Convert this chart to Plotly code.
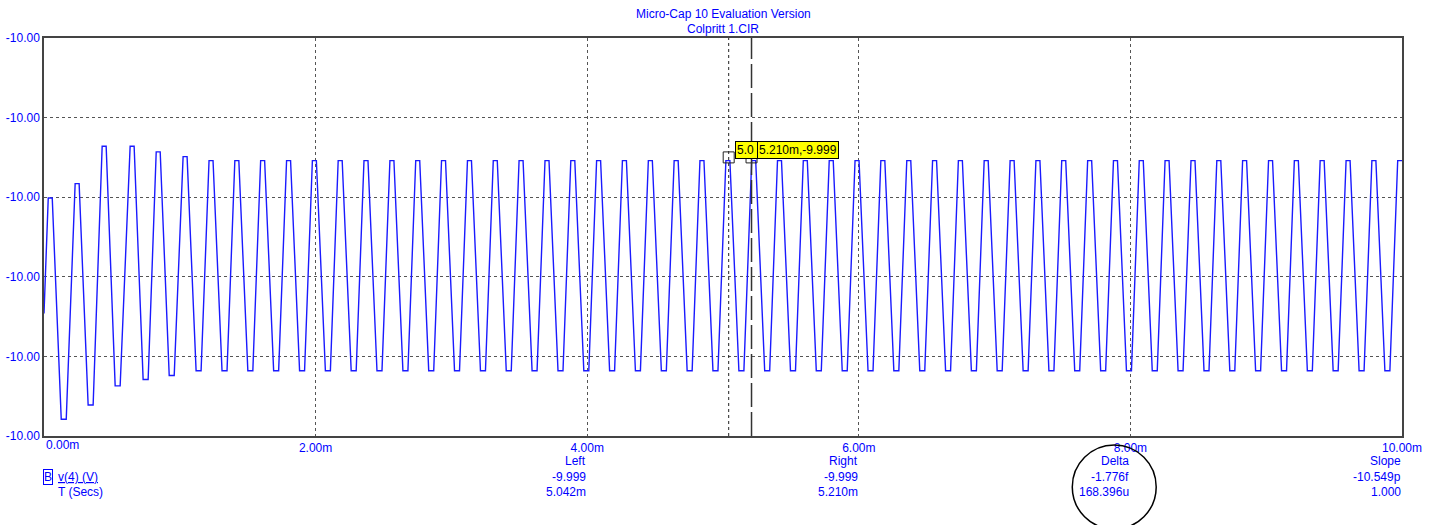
import plotly.graph_objects as go

# ---------------- data ----------------
# time in ms, voltage in V
start_t = 0.0
start_v = -10.00096

peak_t = [0.046, 0.244, 0.443, 0.649, 0.841, 1.039, 1.230, 1.420, 1.610, 1.801,
          1.991, 2.181, 2.371, 2.562, 2.752, 2.942, 3.133, 3.323, 3.513, 3.704,
          3.894, 4.084, 4.274, 4.465, 4.655, 4.845, 5.036, 5.226, 5.416, 5.606,
          5.797, 5.987, 6.177, 6.368, 6.558, 6.748, 6.938, 7.129, 7.319, 7.509,
          7.700, 7.890, 8.080, 8.270, 8.461, 8.651, 8.841, 9.032, 9.222, 9.412,
          9.603, 9.793, 9.983]

peak_v = [-9.99951, -9.99933, -9.99886, -9.99886, -9.99893, -9.99899,
          -9.99904, -9.99904, -9.99904, -9.99904, -9.99904, -9.99904, -9.99904,
          -9.99904, -9.99904, -9.99904, -9.99904, -9.99904, -9.99904, -9.99904,
          -9.99904, -9.99904, -9.99904, -9.99904, -9.99904, -9.99904, -9.99904,
          -9.99904, -9.99904, -9.99904, -9.99904, -9.99904, -9.99904, -9.99904,
          -9.99904, -9.99904, -9.99904, -9.99904, -9.99904, -9.99904, -9.99904,
          -9.99904, -9.99904, -9.99904, -9.99904, -9.99904, -9.99904, -9.99904,
          -9.99904, -9.99904, -9.99904, -9.99904, -9.99904]

trough_v = [-10.00229, -10.00211, -10.00187, -10.00179, -10.00174, -10.00168,
            -10.00168, -10.00168, -10.00168, -10.00168, -10.00168, -10.00168,
            -10.00168, -10.00168, -10.00168, -10.00168, -10.00168, -10.00168,
            -10.00168, -10.00168, -10.00168, -10.00168, -10.00168, -10.00168,
            -10.00168, -10.00168, -10.00168, -10.00168, -10.00168, -10.00168,
            -10.00168, -10.00168, -10.00168, -10.00168, -10.00168, -10.00168,
            -10.00168, -10.00168, -10.00168, -10.00168, -10.00168, -10.00168,
            -10.00168, -10.00168, -10.00168, -10.00168, -10.00168, -10.00168,
            -10.00168, -10.00168, -10.00168, -10.00168]

# waveform shape read from one cycle (ms): flat top half-width,
# trough centre after peak centre, flat bottom half-width
top_half = 0.0147
trough_after_peak = 0.0994
bottom_half = 0.0184
t_end = 10.0

x_tick_vals = [0, 2, 4, 6, 8, 10]
x_tick_text = ["0.00m", "2.00m", "4.00m", "6.00m", "8.00m", "10.00m"]
y_tick_vals = [-10.0025, -10.0015, -10.0005, -9.9995, -9.9985, -9.9975]
y_tick_text = ["-10.00", "-10.00", "-10.00", "-10.00", "-10.00", "-10.00"]

cursor_left = (5.042, -9.999)
cursor_right = (5.210, -9.999)

readout_cols = [4, 6, 8, 10]
readout_head = ["Left", "Right", "Delta", "Slope"]
readout_v = ["-9.999", "-9.999", "-1.776f", "-10.549p"]
readout_t = ["5.042m", "5.210m", "168.396u", "1.000"]

title_lines = ["Micro-Cap 10 Evaluation Version", "Colpritt 1.CIR"]

# ---------------- build waveform vertices ----------------
xs = [start_t]
ys = [start_v]
for i, (tp, vp) in enumerate(zip(peak_t, peak_v)):
    xs += [tp - top_half, min(tp + top_half, t_end)]
    ys += [vp, vp]
    if i < len(trough_v):
        tt = tp + trough_after_peak
        xs += [tt - bottom_half, tt + bottom_half]
        ys += [trough_v[i], trough_v[i]]
if xs[-1] < t_end:
    xs.append(t_end)
    ys.append(ys[-1])

BLUE = "#0000ff"
FONT = "Liberation Sans, Arial, sans-serif"

fig = go.Figure()
fig.add_trace(go.Scatter(x=xs, y=ys, mode="lines",
                         line=dict(color="#1a1aff", width=1.4),
                         hoverinfo="skip"))
fig.add_trace(go.Scatter(x=[cursor_left[0], cursor_right[0]],
                         y=[cursor_left[1], cursor_right[1]],
                         mode="markers",
                         marker=dict(symbol="square-open", size=11,
                                     color="#222222", line=dict(width=1)),
                         hoverinfo="skip"))

grid = dict(showgrid=True, gridcolor="#555555", gridwidth=1, griddash="3px,3px",
            zeroline=False, showline=True, linecolor="#444444", linewidth=1.5,
            mirror=True, ticks="", automargin=False)

fig.update_xaxes(range=[0, 10], tickvals=x_tick_vals,
                 ticktext=[""] + x_tick_text[1:],
                 tickfont=dict(family=FONT, size=12, color=BLUE), **grid)
fig.update_yaxes(range=[y_tick_vals[0] - 1e-9, y_tick_vals[-1] + 1e-9],
                 tickvals=y_tick_vals, ticktext=y_tick_text,
                 tickfont=dict(family=FONT, size=12, color=BLUE), **grid)

ann = []
# first x tick label is left-aligned at the axis origin
ann.append(dict(x=x_tick_vals[0], y=-0.0226, xref="x", yref="paper",
                text=x_tick_text[0], showarrow=False, xanchor="left",
                yanchor="middle", font=dict(family=FONT, size=12, color=BLUE)))
# title
for k, line in enumerate(title_lines):
    ann.append(dict(x=0.5, y=1 + (24 - 15.5 * k) / 398, xref="paper", yref="paper",
                    text=line, showarrow=False, xanchor="center", yanchor="middle",
                    font=dict(family=FONT, size=12, color=BLUE)))
# readouts
rows_y = [-0.0628, -0.1030, -0.1407]
for c, h, v, t in zip(readout_cols, readout_head, readout_v, readout_t):
    for yy, txt in zip(rows_y, [h, v, t]):
        ann.append(dict(x=c, y=yy, xref="x", yref="paper", text=txt,
                        showarrow=False, xanchor="right", yanchor="middle",
                        xshift=1,
                        font=dict(family=FONT, size=12, color=BLUE)))
ann.append(dict(x=0, y=rows_y[1], xref="x", yref="paper", text="B",
                showarrow=False, xanchor="left", yanchor="middle", xshift=-1,
                borderpad=0, bordercolor=BLUE, borderwidth=1,
                font=dict(family=FONT, size=12, color=BLUE)))
ann.append(dict(x=0, y=rows_y[1], xref="x", yref="paper", text="<u>v(4) (V)</u>",
                showarrow=False, xanchor="left", yanchor="middle", xshift=12,
                font=dict(family=FONT, size=12, color=BLUE)))
ann.append(dict(x=0, y=rows_y[2], xref="x", yref="paper", text="T (Secs)",
                showarrow=False, xanchor="left", yanchor="middle", xshift=12,
                font=dict(family=FONT, size=12, color=BLUE)))
# cursor labels (left one is partly hidden behind the right one)
ann.append(dict(x=cursor_left[0], y=cursor_left[1], xref="x", yref="y",
                text="5.0", width=19, align="left", showarrow=False,
                xanchor="left", yanchor="bottom", xshift=6, yshift=-2,
                bgcolor="#ffff00",
                bordercolor="#000000", borderwidth=1, borderpad=1,
                font=dict(family=FONT, size=12, color="#000000")))
ann.append(dict(x=cursor_right[0], y=cursor_right[1], xref="x", yref="y",
                text="5.210m,-9.999", showarrow=False, xanchor="left",
                yanchor="bottom", xshift=5, yshift=-2, bgcolor="#ffff00",
                bordercolor="#000000", borderwidth=1, borderpad=1,
                font=dict(family=FONT, size=12, color="#000000")))

shapes = [
    dict(type="line", xref="x", yref="paper", x0=cursor_left[0], x1=cursor_left[0],
         y0=0, y1=1, line=dict(color="#222222", width=1, dash="3px,3px")),
    dict(type="line", xref="x", yref="paper", x0=cursor_right[0], x1=cursor_right[0],
         y0=0, y1=1, line=dict(color="#333333", width=1.5, dash="24px,5px")),
    dict(type="circle", xref="x", yref="paper", x0=7.572, x1=8.190,
         y0=-0.2337, y1=-0.0226, line=dict(color="#000000", width=1.5)),
]

fig.update_layout(width=1440, height=525,
                  margin=dict(l=44, r=38, t=38, b=89, autoexpand=False),
                  paper_bgcolor="white", plot_bgcolor="white",
                  showlegend=False, annotations=ann, shapes=shapes,
                  font=dict(family=FONT, size=12, color=BLUE),
                  hovermode=False)

fig.write_html("out.html", config={"displayModeBar": False},
               post_script="document.body.style.margin='0';"
                           "document.body.style.overflow='hidden';")
